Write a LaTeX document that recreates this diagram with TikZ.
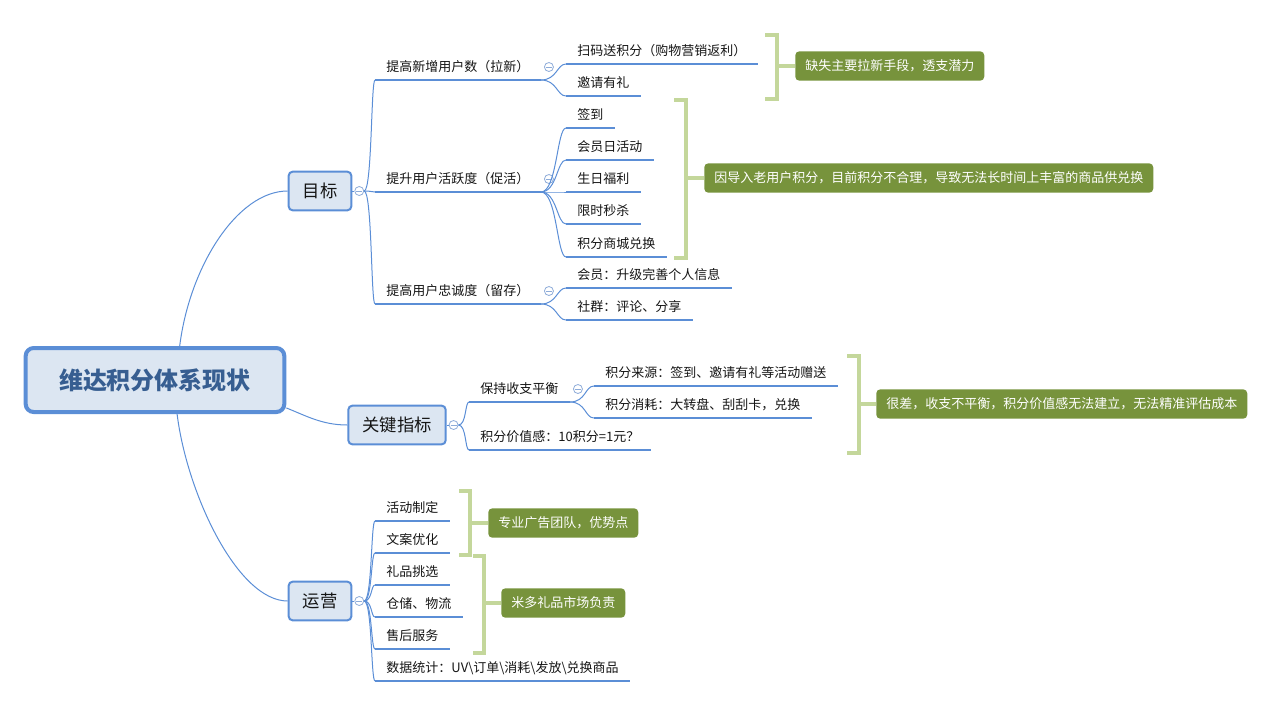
\documentclass[tikz,border=0pt]{standalone}
\usepackage{fontspec}
\setmainfont{Noto Sans CJK SC}
\usetikzlibrary{positioning,calc}
\definecolor{LineBlue}{HTML}{5B8ED6}
\definecolor{BoxFill}{HTML}{DCE6F2}
\definecolor{RootText}{HTML}{375E91}
\definecolor{NoteGreen}{HTML}{77933C}
\definecolor{BraceGreen}{HTML}{C4D79B}
\definecolor{FoldGray}{HTML}{8EACD9}
\definecolor{Ink}{HTML}{151515}

\begin{document}
\begin{tikzpicture}[
        x=0.75pt, y=-0.75pt,
        every node/.style={font=\fontsize{9.75}{12}\selectfont, text=Ink},
        root/.style={draw=LineBlue, line width=3pt, rounded corners=6pt, fill=BoxFill, minimum width=194pt, minimum height=48pt, font=\fontsize{18}{22}\selectfont\bfseries, text=RootText},
        topic/.style={draw=LineBlue, line width=1.5pt, rounded corners=3pt, fill=BoxFill, inner xsep=10.5pt, minimum height=29pt, font=\fontsize{13}{16}\selectfont},
        leaf/.style={anchor=south west, inner xsep=8.4pt, inner ysep=4pt, text height=8pt, text depth=2pt},
        fold/.style={circle, draw=FoldGray, line width=0.6pt, fill=white, minimum size=6.75pt, inner sep=0pt,
            path picture={\draw[FoldGray, line width=0.6pt] ([xshift=-2.2pt]path picture bounding box.center) -- ([xshift=2.2pt]path picture bounding box.center);}},
        note/.style={anchor=west, fill=NoteGreen, rounded corners=3pt, text=white, inner xsep=7.5pt, minimum height=22pt},
        uline/.style={draw=LineBlue, line width=1.8pt},
        conn/.style={draw=LineBlue, line width=0.75pt},
        twig/.style={out=0, in=180, out distance=6pt, in distance=3pt},
        sprig/.style={out=0, in=180, out distance=12pt, in distance=6.75pt},
        bracket/.style={draw=BraceGreen, line width=3pt}
    ]
        \useasboundingbox (0,0) rectangle (1283,708);

        \node[root] (root) at (155,380) {维达积分体系现状};
        \node[topic] (goal) at (320,191) {目标};
        \node[topic] (kpi) at (397,425) {关键指标};
        \node[topic] (ops) at (320,601) {运营};
        \node[fold, right=1.5pt of goal] (goalfold) {};
        \node[fold, right=1.5pt of kpi] (kpifold) {};
        \node[fold, right=1.5pt of ops] (opsfold) {};

        \draw[conn] (root.54) .. controls +(10,-80) and +(-50,0) .. (goal.west);
        \draw[conn] (root.-12) .. controls +(20,8) and +(-25,0) .. (kpi.west);
        \draw[conn] (root.-57) .. controls +(10,80) and +(-50,0) .. (ops.west);
        \draw[conn] (goal) -- (goalfold);
        \draw[conn] (kpi) -- (kpifold);
        \draw[conn] (ops) -- (opsfold);

        % 目标
        \node[leaf] (g1) at (375,80) {提高新增用户数（拉新）};
        \node[leaf] (g2) at (375,192) {提升用户活跃度（促活）};
        \node[leaf] (g3) at (375,304) {提高用户忠诚度（留存）};
        \node[leaf] (g11) at (566,64) {扫码送积分（购物营销返利）};
        \node[leaf] (g12) at (566,96) {邀请有礼};
        \node[leaf] (g21) at (566,128) {签到};
        \node[leaf] (g22) at (566,160) {会员日活动};
        \node[leaf] (g23) at (566,192) {生日福利};
        \node[leaf] (g24) at (566,224) {限时秒杀};
        \node[leaf] (g25) at (566,257) {积分商城兑换};
        \node[leaf] (g31) at (566,288) {会员：升级完善个人信息};
        \node[leaf] (g32) at (566,320) {社群：评论、分享};

        % 关键指标
        \node[leaf] (k1) at (469,402) {保持收支平衡};
        \node[leaf] (k2) at (469,450) {积分价值感：10积分=1元？};
        \node[leaf] (k11) at (594,386) {积分来源：签到、邀请有礼等活动赠送};
        \node[leaf] (k12) at (594,418) {积分消耗：大转盘、刮刮卡，兑换};

        % 运营
        \node[leaf] (o1) at (375,521) {活动制定};
        \node[leaf] (o2) at (375,553) {文案优化};
        \node[leaf] (o3) at (375,585) {礼品挑选};
        \node[leaf] (o4) at (375,617) {仓储、物流};
        \node[leaf] (o5) at (375,649) {售后服务};
        \node[leaf] (o6) at (375,681) {数据统计：UV\textbackslash 订单\textbackslash 消耗\textbackslash 发放\textbackslash 兑换商品};

        \foreach \n in {g1,g2,g3,g11,g12,g21,g22,g23,g24,g25,g31,g32,k1,k2,k11,k12,o1,o2,o3,o4,o5,o6}
            \draw[uline] (\n.south west) -- (\n.south east);

        \foreach \n in {g1,g2,g3,k1}
            \node[fold] (\n fold) at ($(\n.south east)+(8,-13)$) {};

        \foreach \c in {g1,g2,g3}
            \draw[conn] (goalfold.east) to[twig] (\c.south west);
        \foreach \c in {k1,k2}
            \draw[conn] (kpifold.east) to[twig] (\c.south west);
        \foreach \c in {o1,o2,o3,o4,o5,o6}
            \draw[conn] (opsfold.east) to[twig] (\c.south west);
        \foreach \c in {g11,g12}
            \draw[conn] (g1.south east) to[sprig] (\c.south west);
        \foreach \c in {g21,g22,g23,g24,g25}
            \draw[conn] (g2.south east) to[sprig] (\c.south west);
        \foreach \c in {g31,g32}
            \draw[conn] (g3.south east) to[sprig] (\c.south west);
        \foreach \c in {k11,k12}
            \draw[conn] (k1.south east) to[sprig] (\c.south west);

        % summaries
        \node[note] (s1) at (795,66) {缺失主要拉新手段，透支潜力};
        \node[note] (s2) at (704,178) {因导入老用户积分，目前积分不合理，导致无法长时间上丰富的商品供兑换};
        \node[note] (s3) at (876,404) {很差，收支不平衡，积分价值感无法建立，无法精准评估成本};
        \node[note] (s4) at (488,523) {专业广告团队，优势点};
        \node[note] (s5) at (501,603) {米多礼品市场负责};

        \coordinate (t1) at (777,66);
        \coordinate (t2) at (686,178);
        \coordinate (t3) at (859,404);
        \coordinate (t4) at (470,523);
        \coordinate (t5) at (484,603);
        \draw[bracket] (765,35) -| (777,99) -- (765,99);
        \draw[bracket] (674,100) -| (686,258) -- (674,258);
        \draw[bracket] (847,356) -| (859,453) -- (847,453);
        \draw[bracket] (459,491) -| (470,555) -- (459,555);
        \draw[bracket] (473,556) -| (484,653) -- (473,653);
        \draw[bracket] (t1) -- (s1);
        \draw[bracket] (t2) -- (s2);
        \draw[bracket] (t3) -- (s3);
        \draw[bracket] (t4) -- (s4);
        \draw[bracket] (t5) -- (s5);
\end{tikzpicture}
\end{document}
